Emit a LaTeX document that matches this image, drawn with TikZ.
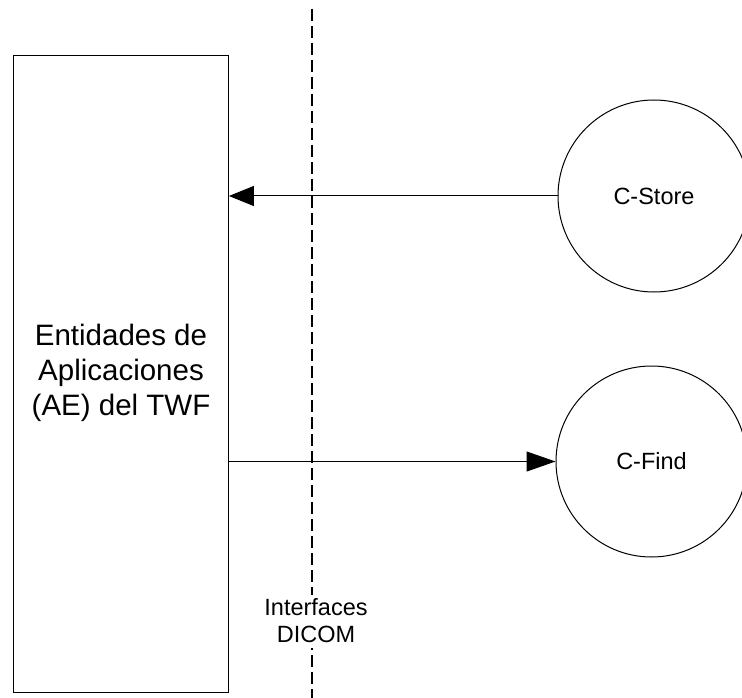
\documentclass[tikz,border=0pt]{standalone}
\usepackage{fontspec}
\setmainfont{Liberation Sans}
\usetikzlibrary{arrows.meta}
\tikzset{
  x=1pt,y=-1pt,
  thinline/.style={draw=black,line width=1pt},
  flow/.style={thinline,-{Triangle[length=29pt,width=20pt,fill=black]}},
  flowb/.style={thinline,-{Triangle[length=25pt,width=20pt,fill=black]}},
  service/.style={circle,draw=black,line width=1pt,fill=white,inner sep=0pt,font=\fontsize{23.5}{27}\selectfont,align=center},
  entity/.style={rectangle,draw=black,line width=1.2pt,fill=white,minimum width=214.6pt,minimum height=637.5pt,inner sep=0pt},
  bigtext/.style={font=\fontsize{29.5}{35}\selectfont,align=center,inner sep=0pt},
  iface/.style={font=\fontsize{23.5}{27}\selectfont,align=center,fill=white,inner sep=1pt,minimum height=53pt},
  boundary/.style={draw=black,line width=1.1pt,dash pattern=on 12pt off 5pt}
}
\begin{document}
\begin{tikzpicture}
\useasboundingbox (0,0) rectangle (742,698);
\coordinate (bt) at (312,9);
\coordinate (bb) at (312,698);
\draw[boundary] (bt) -- (bb);
\node[entity] (box) at (121,374) {};
\node[bigtext] (boxtext) at (121,373) {Entidades de\\Aplicaciones\\(AE) del TWF};
\node[service,minimum size=192pt] (cstore) at (654,196) {C-Store};
\node[service,minimum size=191pt] (cfind) at (651.5,461.5) {C-Find};
\node[iface] (ifacelabel) at (316,621) {Interfaces\\DICOM};
\draw[flowb] (cstore.west) -- (box.east |- cstore.west);
\draw[flow] (box.east |- cfind.west) -- (cfind.west);
\end{tikzpicture}
\end{document}
